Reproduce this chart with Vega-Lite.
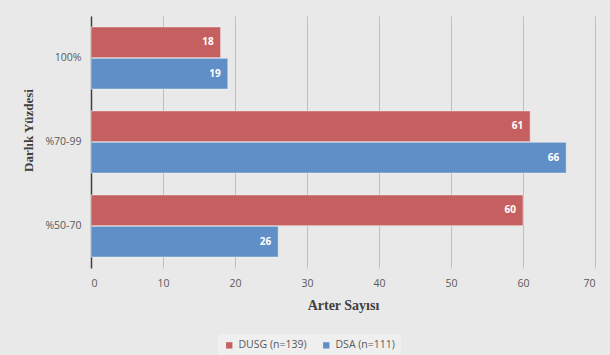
{
  "$schema": "https://vega.github.io/schema/vega-lite/v6.json",
  "autosize": "none",
  "width": 504,
  "height": 252,
  "padding": {"left": 91, "top": 16, "right": 15, "bottom": 87},
  "background": "#e9e9e9",
  "config": {"view": {"stroke": null}, "font": "Open Sans"},
  "data": {"values": [
    {"cat": "100%", "series": "DUSG (n=139)", "value": 18},
    {"cat": "100%", "series": "DSA (n=111)", "value": 19},
    {"cat": "%70-99", "series": "DUSG (n=139)", "value": 61},
    {"cat": "%70-99", "series": "DSA (n=111)", "value": 66},
    {"cat": "%50-70", "series": "DUSG (n=139)", "value": 60},
    {"cat": "%50-70", "series": "DSA (n=111)", "value": 26}
  ]},
  "encoding": {
    "y": {
      "field": "cat", "type": "nominal",
      "sort": ["100%", "%70-99", "%50-70"],
      "scale": {"paddingInner": 0.26, "paddingOuter": 0.13},
      "axis": {
        "title": "Darlık Yüzdesi",
        "titleFont": "Liberation Serif", "titleFontSize": 13, "titleFontWeight": "bold",
        "titleColor": "#404040", "titleX": -63, "titleY": 114, "titleBaseline": "middle", "titleAngle": -90,
        "labelFontSize": 10.5, "labelColor": "#595959", "labelPadding": 10,
        "ticks": false, "domainColor": "#404040", "domainWidth": 1.5, "grid": false
      }
    },
    "yOffset": {"field": "series", "type": "nominal", "sort": ["DUSG (n=139)", "DSA (n=111)"], "scale": {"paddingInner": 0.02}},
    "x": {
      "field": "value", "type": "quantitative",
      "scale": {"domain": [0, 70], "nice": false},
      "axis": {
        "values": [0, 10, 20, 30, 40, 50, 60, 70],
        "title": "Arter Sayısı",
        "titleFont": "Liberation Serif", "titleFontSize": 14, "titleFontWeight": "bold",
        "titleColor": "#404040", "titleY": 37, "titleBaseline": "middle",
        "labelFontSize": 10.5, "labelColor": "#595959", "labelPadding": 10,
        "domain": false, "ticks": false,
        "grid": true, "gridColor": "#bfbfbf", "gridWidth": 1
      }
    }
  },
  "layer": [
    {
      "mark": {"type": "bar", "stroke": "#f4f4f4", "strokeWidth": 0.5},
      "encoding": {
        "color": {
          "field": "series", "type": "nominal",
          "sort": ["DUSG (n=139)", "DSA (n=111)"],
          "scale": {"domain": ["DUSG (n=139)", "DSA (n=111)"], "range": ["#c65f5f", "#5f8fc6"]},
          "legend": {
            "title": null, "orient": "none", "direction": "horizontal",
            "legendX": 127, "legendY": 318,
            "symbolType": "square", "symbolSize": 40, "symbolStrokeWidth": 0,
            "labelFontSize": 10.5, "labelColor": "#595959",
            "columnPadding": 14, "fillColor": "#efefef", "padding": 6
          }
        }
      }
    },
    {
      "mark": {"type": "text", "align": "right", "dx": -7, "color": "white", "fontWeight": "bold", "fontSize": 10},
      "encoding": {"text": {"field": "value", "type": "quantitative"}}
    }
  ]
}
